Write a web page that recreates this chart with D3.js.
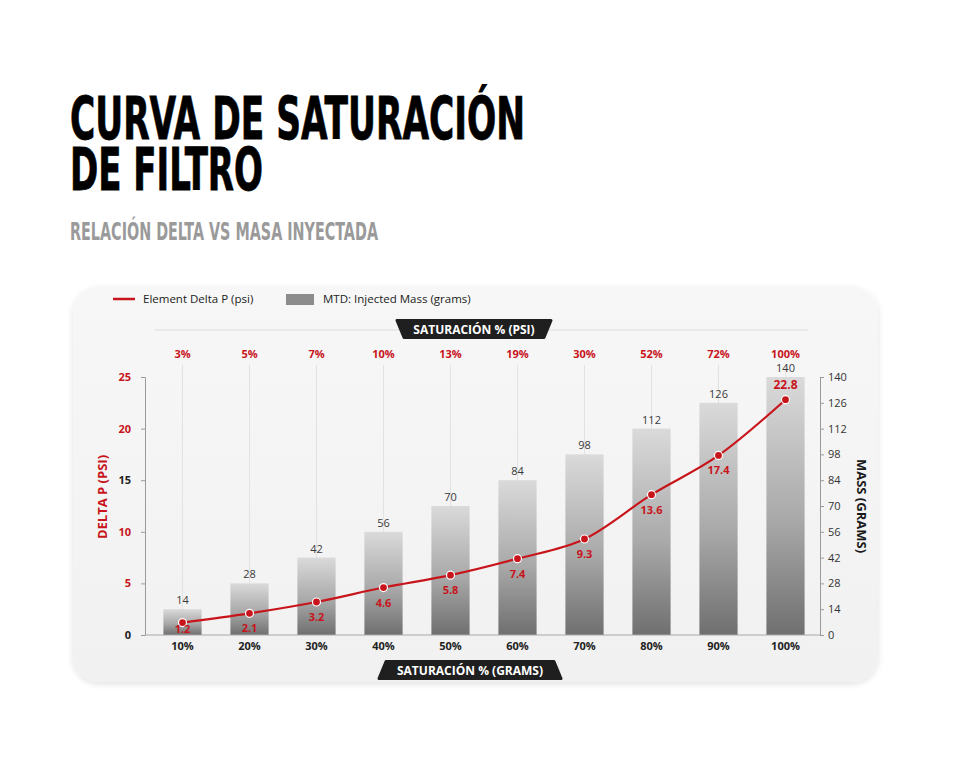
<!DOCTYPE html>
<html lang="es">
<head>
<meta charset="UTF-8">
<title>Curva de saturación de filtro</title>
<script src="https://d3js.org/d3.v7.min.js"></script>
<style>
  body { margin: 0; background: #fff; }
  svg { display: block; font-family: "Open Sans", "Noto Sans", sans-serif; }
</style>
</head>
<body>
<svg id="chart"></svg>
<script>
// datos
const categories = ["10%", "20%", "30%", "40%", "50%", "60%", "70%", "80%", "90%", "100%"];
const saturation = ["3%", "5%", "7%", "10%", "13%", "19%", "30%", "52%", "72%", "100%"];
const deltaP = [1.2, 2.1, 3.2, 4.6, 5.8, 7.4, 9.3, 13.6, 17.4, 22.8];
const mass = [14, 28, 42, 56, 70, 84, 98, 112, 126, 140];
const leftTicks = [0, 5, 10, 15, 20, 25];
const rightTicks = [0, 14, 28, 42, 56, 70, 84, 98, 112, 126, 140];

const width = 960, height = 780;
const red = "#c8141b";
const plotTop = 377, plotBottom = 635, plotLeft = 145, plotRight = 820;

const svg = d3.select("#chart").attr("width", width).attr("height", height);

// títulos
const narrow = "'Liberation Sans Narrow', 'DejaVu Sans Condensed', sans-serif";
svg.append("text").attr("x", 70).attr("y", 139)
   .attr("font-family", narrow).attr("font-weight", 700).attr("font-size", 58)
   .attr("stroke", "#000").attr("stroke-width", 0.8)
   .attr("textLength", 455).attr("lengthAdjust", "spacingAndGlyphs")
   .text("CURVA DE SATURACIÓN");
svg.append("text").attr("x", 70).attr("y", 190)
   .attr("font-family", narrow).attr("font-weight", 700).attr("font-size", 58)
   .attr("stroke", "#000").attr("stroke-width", 0.8)
   .attr("textLength", 193).attr("lengthAdjust", "spacingAndGlyphs")
   .text("DE FILTRO");
svg.append("text").attr("x", 70).attr("y", 240)
   .attr("font-family", narrow).attr("font-weight", 700).attr("font-size", 24)
   .attr("fill", "#9a9a9a")
   .attr("textLength", 308).attr("lengthAdjust", "spacingAndGlyphs")
   .text("RELACIÓN DELTA VS MASA INYECTADA");

// gradientes
const defs = svg.append("defs");
const pg = defs.append("linearGradient").attr("id", "panel").attr("x1", 0).attr("y1", 0).attr("x2", 0).attr("y2", 1);
pg.append("stop").attr("offset", "0%").attr("stop-color", "#f7f7f7");
pg.append("stop").attr("offset", "100%").attr("stop-color", "#f1f1f1");
const bg = defs.append("linearGradient").attr("id", "bar").attr("x1", 0).attr("y1", 0).attr("x2", 0).attr("y2", 1);
bg.append("stop").attr("offset", "0%").attr("stop-color", "#dadada");
bg.append("stop").attr("offset", "55%").attr("stop-color", "#a9a9a9");
bg.append("stop").attr("offset", "100%").attr("stop-color", "#6f6f6f");
const sh = defs.append("filter").attr("id", "shadow").attr("x", "-5%").attr("y", "-5%").attr("width", "110%").attr("height", "115%");
sh.append("feDropShadow").attr("dx", 0).attr("dy", 2).attr("stdDeviation", 3).attr("flood-opacity", 0.12);

// panel
svg.append("rect").attr("x", 73).attr("y", 287).attr("width", 805).attr("height", 395)
   .attr("rx", 26).attr("fill", "url(#panel)").attr("filter", "url(#shadow)");

// leyenda
svg.append("line").attr("x1", 113).attr("x2", 135).attr("y1", 299).attr("y2", 299)
   .attr("stroke", red).attr("stroke-width", 2.5);
svg.append("text").attr("x", 143).attr("y", 303).attr("font-size", 11.5).attr("fill", "#222")
   .text("Element Delta P (psi)");
svg.append("rect").attr("x", 286).attr("y", 294).attr("width", 28).attr("height", 11).attr("fill", "#8c8c8c");
svg.append("text").attr("x", 323).attr("y", 303).attr("font-size", 11.5).attr("fill", "#222")
   .text("MTD: Injected Mass (grams)");

// escalas
const x = d3.scaleBand().domain(categories).range([149, 819]).paddingInner(0.43).paddingOuter(0.215);
const yL = d3.scaleLinear().domain([0, 25]).range([plotBottom, plotTop]);
const yR = d3.scaleLinear().domain([0, 140]).range([plotBottom, plotTop]);
const cx = d => x(d) + x.bandwidth() / 2;

// linea superior y badge
svg.append("line").attr("x1", 155).attr("x2", 808).attr("y1", 330).attr("y2", 330)
   .attr("stroke", "#dcdcdc").attr("stroke-width", 1);
function badge(cxp, cy, w, h, wide, label) {
  // wide: "top" o "bottom"
  const s = 7, hw = w / 2;
  const pts = wide === "top"
    ? [[cxp - hw, cy - h / 2], [cxp + hw, cy - h / 2], [cxp + hw - s, cy + h / 2], [cxp - hw + s, cy + h / 2]]
    : [[cxp - hw + s, cy - h / 2], [cxp + hw - s, cy - h / 2], [cxp + hw, cy + h / 2], [cxp - hw, cy + h / 2]];
  svg.append("path").attr("d", "M" + pts.join("L") + "Z")
     .attr("fill", "#1f1f1f").attr("stroke", "#1f1f1f").attr("stroke-width", 3).attr("stroke-linejoin", "round");
  svg.append("text").attr("x", cxp).attr("y", cy + 4.5).attr("text-anchor", "middle")
     .attr("font-size", 12).attr("font-weight", 700).attr("fill", "#fff").text(label);
}
badge(474, 329, 154, 17, "top", "SATURACIÓN % (PSI)");
badge(470, 670, 182, 17, "bottom", "SATURACIÓN % (GRAMS)");

// lineas verticales
svg.selectAll(".vline").data(categories).join("line")
   .attr("x1", d => cx(d)).attr("x2", d => cx(d))
   .attr("y1", 365).attr("y2", plotBottom)
   .attr("stroke", "#e2e2e2").attr("stroke-width", 1);

// saturación %
svg.selectAll(".sat").data(saturation).join("text")
   .attr("x", (d, i) => cx(categories[i])).attr("y", 358)
   .attr("text-anchor", "middle").attr("font-size", 11).attr("font-weight", 700)
   .attr("fill", red).text(d => d);

// barras
svg.selectAll(".bar").data(mass).join("rect")
   .attr("x", (d, i) => x(categories[i])).attr("width", x.bandwidth())
   .attr("y", d => yR(d)).attr("height", d => plotBottom - yR(d))
   .attr("fill", "url(#bar)");
svg.selectAll(".barlabel").data(mass).join("text")
   .attr("x", (d, i) => cx(categories[i])).attr("y", d => yR(d) - 5)
   .attr("text-anchor", "middle").attr("font-size", 11).attr("fill", "#3a3a3a").text(d => d);

// ejes
const axL = svg.append("g").attr("transform", `translate(${plotLeft},0)`)
   .call(d3.axisLeft(yL).tickValues(leftTicks).tickSize(4).tickPadding(10));
axL.select(".domain").attr("stroke", "#9a9a9a");
axL.selectAll(".tick line").attr("stroke", "#9a9a9a");
axL.selectAll(".tick text").attr("font-size", 11).attr("font-weight", 700)
   .attr("font-family", "'Open Sans', sans-serif")
   .attr("fill", d => (d === 0 || d === 15) ? "#222" : red);

const axR = svg.append("g").attr("transform", `translate(${plotRight},0)`)
   .call(d3.axisRight(yR).tickValues(rightTicks).tickSize(4).tickPadding(4));
axR.select(".domain").attr("stroke", "#9a9a9a");
axR.selectAll(".tick line").attr("stroke", "#9a9a9a");
axR.selectAll(".tick text").attr("font-size", 11).attr("fill", "#333")
   .attr("font-family", "'Open Sans', sans-serif");

const axB = svg.append("g").attr("transform", `translate(0,${plotBottom})`)
   .call(d3.axisBottom(x).tickSize(0).tickPadding(7));
axB.select(".domain").attr("stroke", "#a8a8a8").attr("d", `M${plotLeft},0H${plotRight}`);
axB.selectAll(".tick text").attr("font-size", 11).attr("font-weight", 700).attr("fill", "#222")
   .attr("font-family", "'Open Sans', sans-serif");

// títulos de ejes
svg.append("text").attr("transform", "translate(107,497) rotate(-90)")
   .attr("text-anchor", "middle").attr("font-size", 13).attr("font-weight", 700)
   .attr("fill", red).text("DELTA P (PSI)");
svg.append("text").attr("transform", "translate(857,506) rotate(90)")
   .attr("text-anchor", "middle").attr("font-size", 13).attr("font-weight", 700)
   .attr("fill", "#1a1a1a").text("MASS (GRAMS)");

// curva delta P
const line = d3.line().x((d, i) => cx(categories[i])).y(d => yL(d)).curve(d3.curveMonotoneX);
svg.append("path").datum(deltaP).attr("d", line)
   .attr("fill", "none").attr("stroke", red).attr("stroke-width", 2.2);
svg.selectAll(".pt").data(deltaP).join("circle")
   .attr("cx", (d, i) => cx(categories[i])).attr("cy", d => yL(d)).attr("r", 4)
   .attr("fill", red).attr("stroke", "#fff").attr("stroke-width", 1.2);
svg.selectAll(".ptlabel").data(deltaP).join("text")
   .attr("x", (d, i) => cx(categories[i]))
   .attr("y", (d, i) => i === deltaP.length - 1 ? yL(d) - 11 : Math.min(yL(d) + 19, plotBottom - 2))
   .attr("text-anchor", "middle").attr("font-size", (d, i) => i === deltaP.length - 1 ? 12 : 11)
   .attr("font-weight", 700).attr("fill", red).text(d => d);
</script>
</body>
</html>
